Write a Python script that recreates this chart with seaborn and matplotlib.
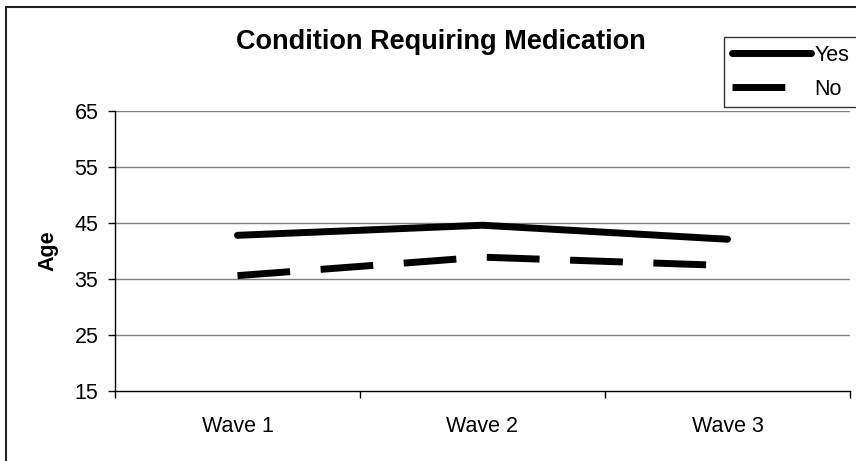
import matplotlib
matplotlib.use("Agg")
import matplotlib.pyplot as plt
from matplotlib.lines import Line2D
from matplotlib.patches import Rectangle
import pandas as pd
import seaborn as sns

# Mean age by survey wave, split by whether a condition requires medication
waves = ["Wave 1", "Wave 2", "Wave 3"]
age_yes = [42.8, 44.6, 42.1]
age_no = [35.6, 38.9, 37.4]
groups = ["Yes", "No"]
y_ticks = [15, 25, 35, 45, 55, 65]

df = pd.DataFrame({
    "Wave": waves * 2,
    "Age": age_yes + age_no,
    "Medication": [groups[0]] * len(waves) + [groups[1]] * len(waves),
})

sns.set_theme(style="white")
plt.rcParams["font.family"] = ["Liberation Sans", "DejaVu Sans"]
plt.rcParams.update({
    "text.color": "black",
    "axes.labelcolor": "black",
    "xtick.color": "black",
    "ytick.color": "black",
})

W, H = 856, 461
fig = plt.figure(figsize=(W / 100, H / 100), dpi=100)
fig.patch.set_facecolor("white")
ax = fig.add_axes([115 / W, 1 - 391 / H, (850 - 115) / W, (391 - 111) / H])

dash_map = {"Yes": "", "No": (7.6, 4.4)}
sns.lineplot(
    data=df, x="Wave", y="Age", style="Medication", dashes=dash_map,
    color="black", linewidth=5, sort=False, legend=False, ax=ax,
    solid_capstyle="round", dash_capstyle="butt",
)

ax.set_xlim(-0.5, len(waves) - 0.5)
ax.set_ylim(y_ticks[0], y_ticks[-1])
ax.set_yticks(y_ticks)
ax.set_yticklabels([str(t) for t in y_ticks])
ax.set_xticks([i - 0.5 for i in range(len(waves) + 1)])
ax.set_xticklabels([])
ax.set_xticks(range(len(waves)), minor=True)
ax.set_xticklabels(waves, minor=True)
ax.set_xlabel("")
ax.set_ylabel("")

ax.grid(False)
for t in y_ticks[1:]:
    ax.axhline(t, color="#808080", linewidth=1.0, zorder=0)

for side in ("top", "right"):
    ax.spines[side].set_visible(False)
for side in ("left", "bottom"):
    ax.spines[side].set_color("black")
    ax.spines[side].set_linewidth(1.0)

ax.tick_params(axis="y", which="major", direction="out", length=5, width=1,
               color="black", pad=7, labelsize=15.5, left=True)
ax.tick_params(axis="x", which="major", direction="out", length=5, width=1,
               color="black", bottom=True)
ax.tick_params(axis="x", which="minor", length=0, pad=18, labelsize=15.5,
               bottom=True)

fig.text(441 / W, 1 - 49 / H, "Condition Requiring Medication",
         ha="center", va="baseline", fontsize=19.5, fontweight="bold")
fig.text(48 / W, 1 - 251 / H, "Age", rotation=90, ha="center", va="center",
         fontsize=15.5, fontweight="bold")

handles = [
    Line2D([], [], color="black", linewidth=5, solid_capstyle="round"),
    Line2D([], [], color="black", linewidth=5, dashes=dash_map["No"],
           dash_capstyle="butt"),
]
leg = ax.legend(handles, groups, loc="upper left",
                bbox_to_anchor=(724 / W, 1 - 37 / H),
                bbox_transform=fig.transFigure, fontsize=15.5,
                handlelength=3.7, handletextpad=0.15, borderpad=0.35,
                labelspacing=0.62, frameon=False, borderaxespad=0)

# Legend box running off the right edge of the chart area
fig.patches.append(Rectangle((724 / W, 1 - 107 / H), 0.3, 70 / H,
                             transform=fig.transFigure, fill=False,
                             edgecolor="#333333", linewidth=1.0))

fig.patches.append(Rectangle((6 / W, -0.05), 1.1, 1 - 7 / H + 0.05,
                             transform=fig.transFigure, fill=False,
                             edgecolor="#222222", linewidth=1.5))

fig.savefig("out.png", dpi=100, facecolor="white")
